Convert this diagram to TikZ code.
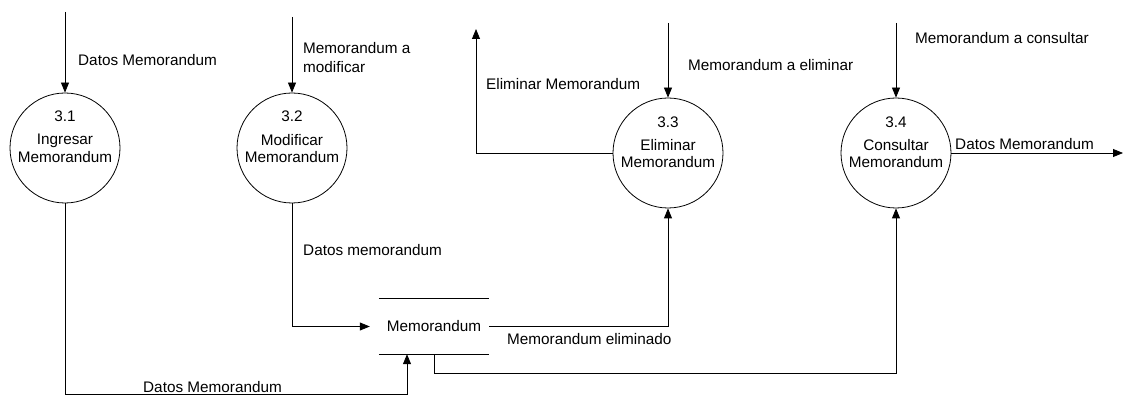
\documentclass[tikz,border=0pt]{standalone}
\usepackage{fontspec}
\setmainfont{Liberation Sans}
\usetikzlibrary{arrows.meta}
\begin{document}
\begin{tikzpicture}[x=1pt,y=-1pt,
  every node/.style={font=\fontsize{15.3}{17.5}\selectfont, inner sep=0pt},
  proc/.style={draw, circle, minimum size=110pt, line width=0.8pt},
  flow/.style={line width=0.8pt, -{Triangle[length=10pt,width=8pt]}},
  lbl/.style={anchor=west},
  storebox/.style={minimum width=110pt, minimum height=55pt},
  storeline/.style={line width=0.8pt}
]
\useasboundingbox (0,0) rectangle (1127,395);

% processes
\node[proc] (p1) at (65,148) {};
\node (n1) at ([yshift=32pt]p1.center) {3.1};
\node[align=center] (t1) at ([yshift=-0.5pt]p1.center) {Ingresar\\Memorandum};

\node[proc] (p2) at (292,148) {};
\node (n2) at ([yshift=32pt]p2.center) {3.2};
\node[align=center] (t2) at ([yshift=-0.5pt]p2.center) {Modificar\\Memorandum};

\node[proc] (p3) at (668,153) {};
\node (n3) at ([yshift=31pt]p3.center) {3.3};
\node[align=center] (t3) at ([yshift=-0.5pt]p3.center) {Eliminar\\Memorandum};

\node[proc] (p4) at (896,153) {};
\node (n4) at ([yshift=31pt]p4.center) {3.4};
\node[align=center] (t4) at ([yshift=-0.5pt]p4.center) {Consultar\\Memorandum};

% data store
\node[storebox] (st) at (434,326.5) {Memorandum};
\draw[storeline] (st.north west) -- (st.north east);
\draw[storeline] (st.south west) -- (st.south east);

% free ends of external flows
\coordinate (in1) at (65,12);
\coordinate (in2) at (292,17);
\coordinate (in3) at (668,23);
\coordinate (in4) at (896,23);
\coordinate (out3) at (476,29);
\coordinate (out4) at (1123,153);

% flows
\draw[flow] (in1) -- (p1);
\draw[flow] (in2) -- (p2);
\draw[flow] (in3) -- (p3);
\draw[flow] (in4) -- (p4);
\draw[flow] (p3.west) -| (out3);
\draw[flow] (p4.east) -- (out4);
\draw[flow] (p2.south) |- ([xshift=-9pt]st.west);
\draw[flow] (st.east) -| (p3.south);
\draw[flow] (st.south) -- ++(0,19.5) -| (p4.south);
\draw[flow] (p1.south) -- ++(0,191) -| ([xshift=-27pt]st.south);

% flow labels
\node[lbl] (l1) at (78,60) {Datos Memorandum};
\node[lbl, align=left, font=\fontsize{15.3}{19}\selectfont] (l2) at (303,57.5) {Memorandum a\\modificar};
\node[lbl] (l3) at (486,84) {Eliminar Memorandum};
\node[lbl] (l4) at (688,65) {Memorandum a eliminar};
\node[lbl] (l5) at (915,38) {Memorandum a consultar};
\node[lbl] (l6) at (955,144) {Datos Memorandum};
\node[lbl] (l7) at (303,250) {Datos memorandum};
\node[lbl] (l8) at (507,339) {Memorandum eliminado};
\node[lbl] (l9) at (143,387.5) {Datos Memorandum};
\end{tikzpicture}
\end{document}
